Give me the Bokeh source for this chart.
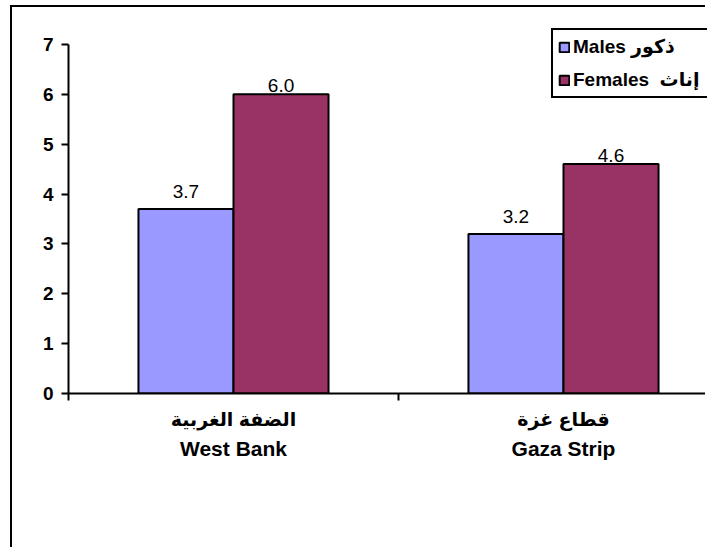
import numpy as np
from bokeh.plotting import figure
from bokeh.models import Range1d, FixedTicker, LinearAxis, Legend, LegendItem
from bokeh.core.properties import value
from bokeh.embed import file_html
from bokeh.resources import INLINE

# ---- data ----
regions_ar = ["الضفة الغربية", "قطاع غزة"]
regions_en = ["West Bank", "Gaza Strip"]
males = [3.7, 3.2]
females = [6.0, 4.6]
series_names = ["Males ذكور", "Females  إناث"]
y_ticks = [0, 1, 2, 3, 4, 5, 6, 7]

FONT = "'Liberation Sans', Arial, 'DejaVu Sans', sans-serif"
MALE_C = "#9999FF"
FEMALE_C = "#993366"

n = len(regions_en)
idx = np.arange(n)
bar_w = 0.288

p = figure(width=695, height=542, output_backend="svg", toolbar_location=None,
           x_range=Range1d(0, 1.9364), y_range=Range1d(0, 7.48),
           min_border_left=56, min_border_top=13, min_border_right=0,
           min_border_bottom=156, x_axis_type=None)
p.styles = {"margin-left": "10px", "margin-top": "5px",
            "border-left": "2px solid black", "border-top": "2px solid black"}
p.xgrid.visible = False
p.ygrid.visible = False
p.outline_line_color = None
p.background_fill_color = "white"
p.border_fill_color = "white"

# bars
xm = idx + 0.5 - bar_w / 2
xf = idx + 0.5 + bar_w / 2
rm = p.vbar(x=xm, top=males, width=bar_w, bottom=0, fill_color=MALE_C,
            line_color="black", line_width=2)
rf = p.vbar(x=xf, top=females, width=bar_w, bottom=0, fill_color=FEMALE_C,
            line_color="black", line_width=2)

# value labels
p.text(x=xm, y=males, text=["%.1f" % v for v in males], text_align="center",
       text_baseline="alphabetic", y_offset=-17, text_font=value(FONT),
       text_font_size="19px", text_color="black")
p.text(x=xf, y=females, text=["%.1f" % v for v in females], text_align="center",
       text_baseline="alphabetic", y_offset=-9, text_font=value(FONT),
       text_font_size="19px", text_color="black")

# y axis
ya = p.yaxis[0]
ya.ticker = FixedTicker(ticks=y_ticks)
ya.bounds = (y_ticks[0], y_ticks[-1])
ya.minor_tick_line_color = None
ya.major_tick_in = 0
ya.major_tick_out = 7
ya.major_tick_line_width = 2
ya.axis_line_width = 2
ya.axis_line_color = "black"
ya.major_tick_line_color = "black"
ya.major_label_text_font = FONT
ya.major_label_text_font_style = "bold"
ya.major_label_text_font_size = "19px"
ya.major_label_text_color = "black"
ya.major_label_standoff = 8

# x axis: boundary ticks
xa1 = LinearAxis(ticker=FixedTicker(ticks=[float(i) for i in range(n + 1)]))
xa1.minor_tick_line_color = None
xa1.major_tick_in = 0
xa1.major_tick_out = 7
xa1.major_tick_line_width = 2
xa1.axis_line_width = 2
xa1.axis_line_color = "black"
xa1.major_tick_line_color = "black"
xa1.major_label_text_font_size = "0px"
xa1.major_label_text_color = None
xa1.major_label_standoff = 0
p.add_layout(xa1, "below")

# category labels (Arabic line, English line)
centers = [float(i) + 0.5 for i in idx]
for labels, standoff, fsize in ((regions_ar, 8, "19px"), (regions_en, 4, "21px")):
    ax = LinearAxis(ticker=FixedTicker(ticks=centers),
                    major_label_overrides={c: t for c, t in zip(centers, labels)})
    ax.axis_line_color = None
    ax.major_tick_line_color = None
    ax.minor_tick_line_color = None
    ax.major_tick_out = 0
    ax.major_tick_in = 0
    ax.major_label_text_font = FONT
    ax.major_label_text_font_style = "bold"
    ax.major_label_text_font_size = fsize
    ax.major_label_text_color = "black"
    ax.major_label_standoff = standoff
    p.add_layout(ax, "below")

legend = Legend(items=[LegendItem(label=series_names[0], renderers=[rm]),
                       LegendItem(label=series_names[1], renderers=[rf])],
                location=(483, 295))
legend.label_text_font = FONT
legend.label_text_font_style = "bold"
legend.label_text_font_size = "19px"
legend.label_text_color = "black"
legend.glyph_width = 12
legend.glyph_height = 12
legend.label_standoff = 3
legend.label_width = 160
legend.label_height = 21
legend.spacing = 10
legend.padding = 5
legend.margin = 0
legend.border_line_color = "black"
legend.border_line_alpha = 1.0
legend.border_line_width = 2
legend.background_fill_color = "white"
legend.background_fill_alpha = 1
p.add_layout(legend, "center")

open("out.html", "w").write(file_html(p, INLINE))
